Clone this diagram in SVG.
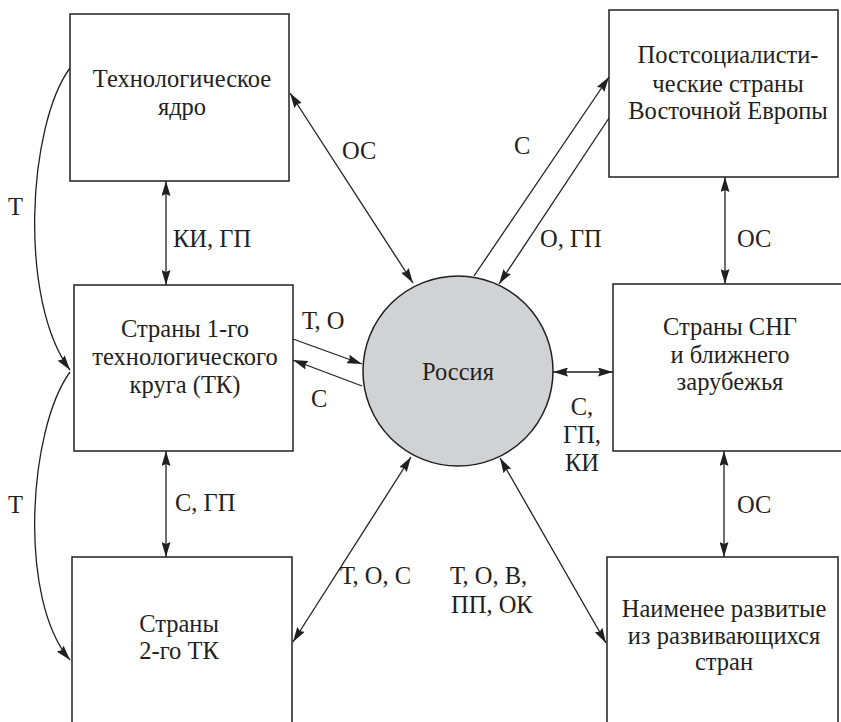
<svg xmlns="http://www.w3.org/2000/svg" width="841" height="722" viewBox="0 0 841 722">
<style>
  .box { fill: #ffffff; stroke: #231f20; stroke-width: 1.5; }
  .ln { fill: none; stroke: #231f20; stroke-width: 1.3; }
  text { font-family: "Liberation Serif", serif !important; font-size: 24.5px; fill: #231f20; }
  .c { text-anchor: middle; }
</style>
<defs>
  <marker id="ah" viewBox="0 0 15 9" refX="15" refY="4.5" markerWidth="15" markerHeight="9" markerUnits="userSpaceOnUse" orient="auto-start-reverse">
    <path d="M0,0 L15,4.5 L0,9 L2,4.5 z" fill="#231f20"/>
  </marker>
</defs>
<rect width="841" height="722" fill="#ffffff"/>

<g id="connectors">
  <line class="ln" x1="166" y1="181" x2="166" y2="285" marker-start="url(#ah)" marker-end="url(#ah)"/>
  <line class="ln" x1="166" y1="451" x2="166" y2="557" marker-start="url(#ah)" marker-end="url(#ah)"/>
  <line class="ln" x1="290" y1="93" x2="413" y2="283" marker-start="url(#ah)" marker-end="url(#ah)"/>
  <line class="ln" x1="293" y1="339" x2="362" y2="364" marker-end="url(#ah)"/>
  <line class="ln" x1="362" y1="386" x2="293" y2="360" marker-end="url(#ah)"/>
  <line class="ln" x1="293" y1="642" x2="411" y2="457" marker-start="url(#ah)" marker-end="url(#ah)"/>
  <line class="ln" x1="500" y1="458" x2="606" y2="643" marker-start="url(#ah)" marker-end="url(#ah)"/>
  <line class="ln" x1="553" y1="372" x2="613" y2="372" marker-start="url(#ah)" marker-end="url(#ah)"/>
  <line class="ln" x1="474" y1="276" x2="609" y2="77" marker-end="url(#ah)"/>
  <line class="ln" x1="609" y1="118" x2="499" y2="284" marker-end="url(#ah)"/>
  <line class="ln" x1="725" y1="177" x2="725" y2="284" marker-start="url(#ah)" marker-end="url(#ah)"/>
  <line class="ln" x1="724" y1="451" x2="724" y2="557" marker-start="url(#ah)" marker-end="url(#ah)"/>
  <path class="ln" d="M70,68 C28,125 18,300 70,370" marker-end="url(#ah)"/>
  <path class="ln" d="M70,372 C28,430 18,600 70,660" marker-end="url(#ah)"/>
</g>

<g id="labels">
  <text style="font-family:'Liberation Serif',serif" x="173" y="247">КИ, ГП</text>
  <text style="font-family:'Liberation Serif',serif" x="175" y="511">С, ГП</text>
  <text style="font-family:'Liberation Serif',serif" x="342" y="159">ОС</text>
  <text style="font-family:'Liberation Serif',serif" x="302" y="329">Т, О</text>
  <text style="font-family:'Liberation Serif',serif" x="311" y="407">С</text>
  <text style="font-family:'Liberation Serif',serif" x="340" y="584">Т, О, С</text>
  <text style="font-family:'Liberation Serif',serif" x="450" y="584">Т, О, В,</text>
  <text style="font-family:'Liberation Serif',serif" x="451" y="613">ПП, ОК</text>
  <text style="font-family:'Liberation Serif',serif" class="c" x="582" y="415">С,</text>
  <text style="font-family:'Liberation Serif',serif" class="c" x="582" y="443">ГП,</text>
  <text style="font-family:'Liberation Serif',serif" class="c" x="582" y="471">КИ</text>
  <text style="font-family:'Liberation Serif',serif" x="514" y="154">С</text>
  <text style="font-family:'Liberation Serif',serif" x="540" y="247">О, ГП</text>
  <text style="font-family:'Liberation Serif',serif" x="737" y="247">ОС</text>
  <text style="font-family:'Liberation Serif',serif" x="737" y="513">ОС</text>
  <text style="font-family:'Liberation Serif',serif" x="8" y="215">Т</text>
  <text style="font-family:'Liberation Serif',serif" x="8" y="513">Т</text>
</g>

<g id="tech-core">
  <rect class="box" x="70" y="14" width="219" height="167"/>
  <text style="font-family:'Liberation Serif',serif" class="c" x="182" y="87">Технологическое</text>
  <text style="font-family:'Liberation Serif',serif" class="c" x="182" y="115">ядро</text>
</g>

<g id="tk1">
  <rect class="box" x="74" y="285" width="219" height="166"/>
  <text style="font-family:'Liberation Serif',serif" class="c" x="185" y="337">Страны 1-го</text>
  <text style="font-family:'Liberation Serif',serif" class="c" x="185" y="365">технологического</text>
  <text style="font-family:'Liberation Serif',serif" class="c" x="185" y="393">круга (ТК)</text>
</g>

<g id="tk2">
  <rect class="box" x="72" y="557" width="220" height="175"/>
  <text style="font-family:'Liberation Serif',serif" class="c" x="179" y="632">Страны</text>
  <text style="font-family:'Liberation Serif',serif" class="c" x="179" y="659">2-го ТК</text>
</g>

<g id="east-europe">
  <rect class="box" x="609" y="10" width="229" height="167"/>
  <text style="font-family:'Liberation Serif',serif" class="c" x="728" y="63">Постсоциалисти-</text>
  <text style="font-family:'Liberation Serif',serif" class="c" x="728" y="92">ческие страны</text>
  <text style="font-family:'Liberation Serif',serif" class="c" x="728" y="119">Восточной Европы</text>
</g>

<g id="cis">
  <rect class="box" x="613" y="284" width="240" height="167"/>
  <text style="font-family:'Liberation Serif',serif" class="c" x="730" y="335">Страны СНГ</text>
  <text style="font-family:'Liberation Serif',serif" class="c" x="730" y="363">и ближнего</text>
  <text style="font-family:'Liberation Serif',serif" class="c" x="730" y="390">зарубежья</text>
</g>

<g id="least-developed">
  <rect class="box" x="607" y="557" width="231" height="175"/>
  <text style="font-family:'Liberation Serif',serif" class="c" x="724" y="617">Наименее развитые</text>
  <text style="font-family:'Liberation Serif',serif" class="c" x="724" y="644">из развивающихся</text>
  <text style="font-family:'Liberation Serif',serif" class="c" x="724" y="670">стран</text>
</g>

<g id="russia">
  <circle cx="458" cy="371" r="95" fill="#d1d2d4" stroke="#231f20" stroke-width="1.5"/>
  <text style="font-family:'Liberation Serif',serif" class="c" x="458" y="380">Россия</text>
</g>
</svg>
